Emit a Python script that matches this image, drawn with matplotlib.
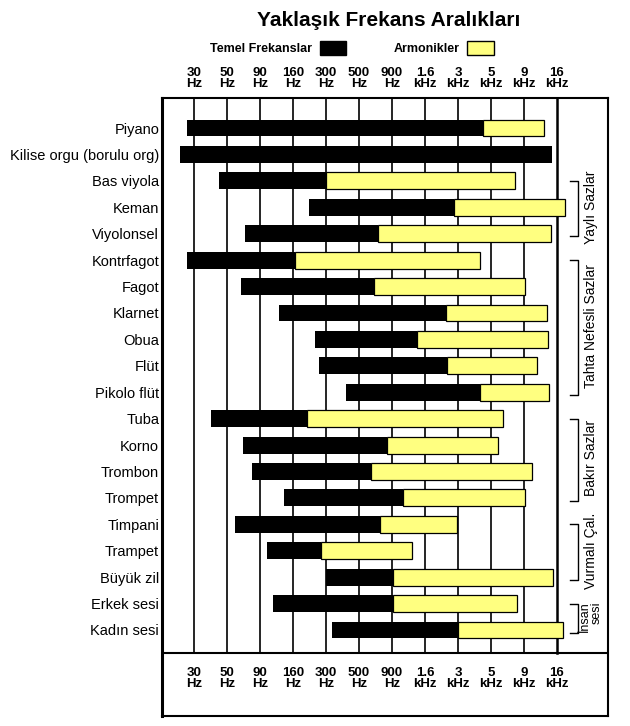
import numpy as np
import matplotlib
matplotlib.use('Agg')
import matplotlib.pyplot as plt
from matplotlib.patches import Patch

plt.rcParams['font.family'] = ['Liberation Sans', 'DejaVu Sans']

# ---------------- data (Hz) ----------------
instruments = ['Piyano', 'Kilise orgu (borulu org)', 'Bas viyola', 'Keman', 'Viyolonsel',
               'Kontrfagot', 'Fagot', 'Klarnet', 'Obua', 'Flüt', 'Pikolo flüt',
               'Tuba', 'Korno', 'Trombon', 'Trompet', 'Timpani', 'Trampet',
               'Büyük zil', 'Erkek sesi', 'Kadın sesi']
fund_low = [27, 24, 44, 216, 69, 27, 64, 126, 244, 263, 410,
            39, 66, 78, 137, 58, 102, 300, 113, 329]
fund_high = [4400, 14700, 300, 2780, 700, 166, 650, 2390, 1400, 2440, 4220,
             208, 824, 618, 1090, 729, 273, 916, 916, 3000]
# upper limit of harmonics (nan = none drawn)
harm_high = [12700, np.nan, 7700, 18400, 14400, 4220, 9160, 13500, 13700, 11300, 13900,
             6180, 5660, 10300, 9160, 2940, 1280, 14900, 7950, 17700]

freq_ticks = [30, 50, 90, 160, 300, 500, 900, 1600, 3000, 5000, 9000, 16000]
freq_labels = ['30\nHz', '50\nHz', '90\nHz', '160\nHz', '300\nHz', '500\nHz', '900\nHz',
               '1.6\nkHz', '3\nkHz', '5\nkHz', '9\nkHz', '16\nkHz']

groups = ['Yaylı Sazlar', 'Tahta Nefesli Sazlar', 'Bakır Sazlar', 'Vurmalı Çal.', 'İnsan\nsesi']
group_first = [2, 5, 11, 15, 18]
group_last = [4, 10, 14, 17, 19]

YELLOW = '#FFFF80'

# ---------------- scale: tick frequencies equally spaced ----------------
pos = np.arange(len(freq_ticks))
logt = np.log10(freq_ticks)
lt_ext = np.concatenate([[2 * logt[0] - logt[1]], logt, [2 * logt[-1] - logt[-2]]])
pos_ext = np.concatenate([[-1], pos, [len(freq_ticks)]])


def fwd(f):
    return np.interp(np.log10(np.maximum(f, 1e-6)), lt_ext, pos_ext)


def inv(x):
    return 10 ** np.interp(x, pos_ext, lt_ext)


W, H = 630, 726


def fig_rect(x0, y0, x1, y1):
    return [x0 / W, 1 - y1 / H, (x1 - x0) / W, (y1 - y0) / H]


fig = plt.figure(figsize=(W / 100, H / 100), dpi=100)

# outer frame
frame = fig.add_axes(fig_rect(162, 98, 608, 716))
frame.set_xticks([])
frame.set_yticks([])
for s in frame.spines.values():
    s.set_linewidth(1.5)
frame.spines['left'].set_linewidth(2.2)
frame.axhline((716 - 653) / (716 - 98), color='black', lw=1.5)

ax = fig.add_axes(fig_rect(162, 98, 557, 653))
ax.patch.set_visible(False)
ax.set_xscale('function', functions=(fwd, inv))
ax.set_xlim(inv(-32 / 33), freq_ticks[-1])

rows = np.arange(len(instruments))
ax.set_ylim(19 + 23 / 26.4, -30 / 26.4)

for f in freq_ticks[:-1]:
    ax.axvline(f, color='black', lw=1.2, zorder=1)

lo = np.array(fund_low, dtype=float)
hi = np.array(fund_high, dtype=float)
hh = np.array(harm_high, dtype=float)
ok = ~np.isnan(hh)

ax.barh(rows[ok], hh[ok] - hi[ok], left=hi[ok], height=0.64, color=YELLOW,
        edgecolor='black', linewidth=0.9, zorder=3, clip_on=False)
ax.barh(rows, hi - lo, left=lo, height=0.64, color='black', zorder=4, clip_on=False)

for s in ['top', 'left', 'bottom']:
    ax.spines[s].set_visible(False)
ax.spines['right'].set_linewidth(1.8)

ax.set_yticks(rows)
ax.set_yticklabels(instruments, fontsize=10.5)
ax.tick_params(axis='y', length=0, pad=2)

ax.set_xticks(freq_ticks)
ax.set_xticklabels(freq_labels, fontsize=9.5, fontweight='bold', linespacing=0.9)
ax.tick_params(axis='x', length=0, pad=10)
ax.xaxis.set_minor_locator(matplotlib.ticker.NullLocator())

for f, lab in zip(freq_ticks, freq_labels):
    ax.annotate(lab, xy=(f, 1), xycoords=('data', 'axes fraction'), xytext=(0, 6),
                textcoords='offset points', ha='center', va='bottom',
                fontsize=9.5, fontweight='bold', linespacing=0.9)

# group brackets on the right
trans = ax.get_yaxis_transform()
for name, a, b in zip(groups, group_first, group_last):
    ax.plot([1.033, 1.053, 1.053, 1.033], [a, a, b + 0.1, b + 0.1], transform=trans,
            color='black', lw=1, clip_on=False)
    fs = 9 if '\n' in name else 10
    ax.text(1.085, (a + b) / 2, name, transform=trans, rotation=90, ha='center', va='center',
            fontsize=fs, multialignment='right', linespacing=0.95)

fig.legend(handles=[Patch(fc='black', ec='black'), Patch(fc=YELLOW, ec='black')],
           labels=['Temel Frekanslar', 'Armonikler'], loc='center',
           bbox_to_anchor=(352 / W, 1 - 48 / H), ncol=2, frameon=False, markerfirst=False,
           handlelength=2.1, handleheight=1.4, handletextpad=0.6, columnspacing=3.8,
           prop=dict(weight='bold', size=9))

fig.text(389 / W, 1 - 20 / H, 'Yaklaşık Frekans Aralıkları', ha='center', va='center',
         fontsize=15, fontweight='bold')

fig.savefig('out.png', dpi=100)
